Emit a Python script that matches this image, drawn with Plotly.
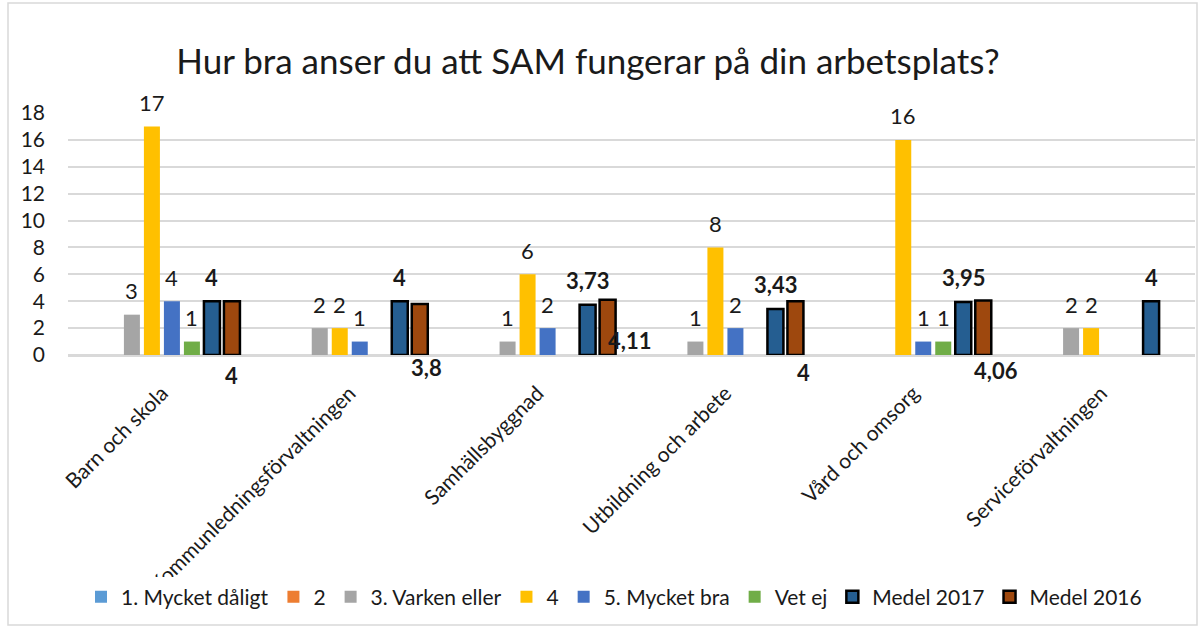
import plotly.graph_objects as go

categories = ["Barn och skola", "Kommunledningsförvaltningen", "Samhällsbyggnad",
              "Utbildning och arbete", "Vård och omsorg", "Serviceförvaltningen"]
series_names = ["1. Mycket dåligt", "2", "3. Varken eller", "4", "5. Mycket bra",
                "Vet ej", "Medel 2017", "Medel 2016"]
s1 = [None, None, None, None, None, None]
s2 = [None, None, None, None, None, None]
s3 = [3, 2, 1, 1, None, 2]
s4 = [17, 2, 6, 8, 16, 2]
s5 = [4, 1, 2, 2, 1, None]
vet_ej = [1, None, None, None, 1, None]
medel_2017 = [4, 4, 3.73, 3.43, 3.95, 4]
medel_2016 = [4, 3.8, 4.11, 4, 4.06, None]
y_ticks = [0, 2, 4, 6, 8, 10, 12, 14, 16, 18]

all_series = [s1, s2, s3, s4, s5, vet_ej, medel_2017, medel_2016]
colors = ["#5B9BD5", "#ED7D31", "#A5A5A5", "#FFC000", "#4472C4", "#70AD47",
          "#255E91", "#9E480E"]

FONT = "Lato"
TXT = "#1a1a1a"
W, H = 1200, 628
L, R, T, B = 68, 5, 113, 273
plot_w = W - L - R
plot_h = H - T - B
BARGAP = 0.148
pitch = plot_w / len(categories) * (1 - BARGAP) / len(all_series)

def fmt(v):
    return f"{v:g}".replace(".", ",")

fig = go.Figure()
for i, (name, vals, col) in enumerate(zip(series_names, all_series, colors)):
    is_medel = i >= 6
    fig.add_trace(go.Bar(
        name=name, x=categories, y=vals,
        marker=dict(color=col,
                    line=dict(color="#000000" if is_medel else col,
                              width=2.5 if is_medel else 0)),
        hoverinfo="skip",
    ))

annotations = []
# count labels and Medel 2017 labels above bars
for i, vals in enumerate(all_series[:7]):
    for c, v in zip(categories, vals):
        if v is None:
            continue
        annotations.append(dict(
            x=c, y=v, xref="x", yref="y", text=fmt(v), showarrow=False,
            xshift=(i - 3.5) * pitch, yshift=24, yanchor="middle",
            font=dict(family=FONT, size=22, color=TXT,
                      weight="bold" if i == 6 else "normal"),
        ))
# Medel 2016 labels (moved positions as in original)
m16_shift = [(0, -20), (7, -12), (22, 15), (8, -17), (13, -15), (0, 0)]
for (dx, dy), c, v in zip(m16_shift, categories, medel_2016):
    if v is None:
        continue
    annotations.append(dict(
        x=c, y=0, xref="x", yref="y", text=fmt(v), showarrow=False,
        xshift=3.5 * pitch + dx, yshift=dy, yanchor="middle",
        font=dict(family=FONT, size=22, color=TXT, weight="bold"),
    ))

fig.update_layout(
    width=W, height=H,
    margin=dict(l=L, r=R, t=T, b=B),
    paper_bgcolor="white", plot_bgcolor="white",
    barmode="group", bargap=BARGAP, bargroupgap=0.2,
    title=dict(text="Hur bra anser du att SAM fungerar på din arbetsplats?",
               x=0.49, xanchor="center", y=1 - 62 / H, yanchor="middle",
               font=dict(family=FONT, size=35, color=TXT)),
    font=dict(family=FONT, size=21, color=TXT),
    legend=dict(orientation="h", x=(614 - L) / plot_w, xanchor="center",
                y=(355 - 597) / plot_h, yanchor="middle",
                font=dict(family=FONT, size=21, color=TXT),
                itemwidth=30, traceorder="normal"),
    annotations=annotations,
    shapes=[dict(type="rect", xref="paper", yref="paper",
                 x0=(8 - L) / plot_w, x1=(1197 - L) / plot_w,
                 y0=(355 - 625) / plot_h, y1=(355 - 3) / plot_h,
                 line=dict(color="#D9D9D9", width=1.5), layer="below")],
)
fig.update_xaxes(tickangle=-45, showgrid=False, showline=True, linecolor="#D9D9D9",
                 linewidth=1.5, ticks="", ticklabelstandoff=16,
                 tickfont=dict(family=FONT, size=21, color=TXT))
fig.update_yaxes(range=[0, 18], tickvals=y_ticks, showgrid=True, gridcolor="#D9D9D9",
                 gridwidth=1.5, zeroline=True, zerolinecolor="#D9D9D9", zerolinewidth=1.5,
                 ticklabelstandoff=22,
                 tickfont=dict(family=FONT, size=21, color=TXT))

fig.write_html("out.html", config={"displayModeBar": False},
               post_script="document.body.style.margin='0';")
